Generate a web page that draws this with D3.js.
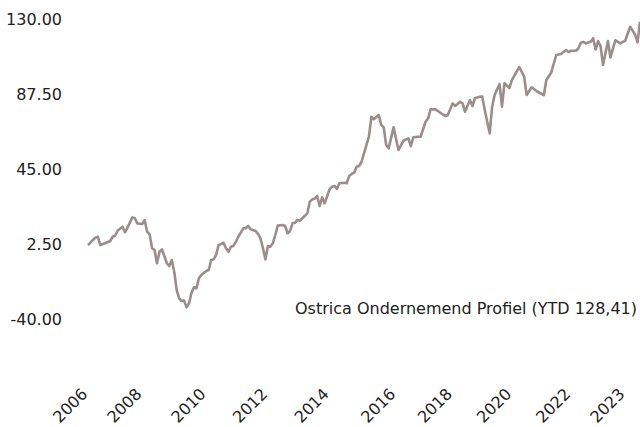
<!DOCTYPE html>
<html>
<head>
  <meta charset="UTF-8">
  <style>
    body { margin: 0; background: white; }
    svg text { font-family: "DejaVu Sans", sans-serif; fill: #222; }
    .line { fill: none; stroke: #9b8d8c; stroke-width: 2.6; stroke-linejoin: round; }
  </style>
</head>
<body>
<svg id="chart" width="640" height="427"></svg>
<script src="https://d3js.org/d3.v7.min.js"></script>
<script>

// month index from the start of the series
let months = [0,2,3,4,5,7,9,10,11,12,14,15,16,18,19,20,22,23,24,25,26,27,28,29,30,32,33,34,35,36,37,38,39,40,41,42,43,44,45,46,48,49,50,51,52,53,
  55,56,57,58,59,60,61,63,64,65,66,68,69,70,71,72,73,74,75,76,77,79,80,81,82,83,84,85,86,87,89,90,91,92,93,94,95,96,97,98,99,100,101,102,104,105,106,107,108,109,110,111,
  112,114,115,116,118,119,120,121,122,124,126,128,130,131,132,134,135,137,138,139,141,143,145,146,148,149,151,152,153,155,156,157,159,160,161,163,164,165,167,168,169,171,172,175,177,178,180,182,185,186,188,190,192,194,195,196,198,199,200,201,202,204,205,206,207,208,209,211,212,214,216,218,220,221,222,223,224];

let values = [1.9,4.8,6.1,6.6,1.9,2.9,4.2,6.6,7.2,10.0,12.3,9.1,11.7,17.6,17.1,14.2,13.8,16.1,9.5,8.0,0.1,-0.9,-8.4,-1.9,-0.5,-8.4,-10.0,-6.6,-13.2,-23.6,-28.3,-29.8,-29.6,-33.4,-31.1,-25.1,-22.0,-22.6,-16.9,-15.1,-12.8,-12.2,-6.6,-6.2,-3.7,1.9,
  3.2,0.1,-1.9,1.0,1.4,3.8,6.6,11.4,11.4,12.7,10.8,9.9,8.2,5.7,0.1,-6.2,1.4,1.0,2.9,7.6,12.9,13.3,12.7,8.6,9.9,14.2,14.6,16.1,15.7,17.1,19.9,26.5,27.8,28.2,29.7,24.0,29.0,25.6,29.3,33.5,35.0,35.4,33.7,36.9,37.2,36.9,41.0,42.2,42.9,46.3,46.7,49.1,
  53.9,63.3,74.6,73.2,75.6,69.9,68.6,58.6,56.7,68.6,55.8,61.0,62.4,58.0,63.0,63.3,63.3,71.8,73.7,78.8,78.8,76.9,75.0,75.6,82.2,80.7,83.1,82.2,77.5,84.1,80.7,85.1,86.0,86.0,78.4,65.2,80.3,86.9,93.2,80.3,93.6,90.9,95.4,102.8,97.3,86.9,91.3,89.2,86.9,95.4,99.7,109.6,110.2,112.4,111.3,112.0,112.0,113.4,116.6,117.0,116.2,117.1,119.1,112.7,117.5,114.7,103.9,117.5,108.2,117.9,116.2,117.7,125.6,123.4,121.2,116.7,128.41];

let tickIdx = [0,22,48,73,98,125,148,172,196,218];
let tickLabels = ["2006","2008","2010","2012","2014","2016","2018","2020","2022","2023"];
let yTicks = [-40, 2.5, 45, 87.5, 130];
let seriesName = "Ostrica Ondernemend Profiel (YTD 128,41)";

let data = months.map((m, i) => ({ m: m, v: values[i] }));

let svg = d3.select("#chart");

let x = d3.scaleLinear().domain([0, 224]).range([88, 640]);
let y = d3.scaleLinear().domain([-40, 130]).range([319, 19]);

// y axis, labels only
svg.append("g")
    .attr("transform", "translate(70,0)")
    .call(d3.axisLeft(y).tickValues(yTicks).tickFormat(d => d.toFixed(2)).tickSize(0).tickPadding(8))
    .call(g => g.select(".domain").remove())
    .selectAll("text")
    .style("font-size", "16px");

// x axis, rotated year labels
svg.append("g")
    .attr("transform", "translate(0,395)")
    .call(d3.axisBottom(x).tickValues(tickIdx).tickFormat((d, i) => tickLabels[i]).tickSize(0))
    .call(g => g.select(".domain").remove())
    .selectAll("text")
    .style("font-size", "16px")
    .attr("dy", 0)
    .attr("y", 0)
    .attr("text-anchor", "end")
    .attr("transform", "rotate(-45)");

svg.append("path")
    .datum(data)
    .attr("class", "line")
    .attr("d", d3.line().x(d => x(d.m)).y(d => y(d.v)));

svg.append("text")
    .attr("x", 637)
    .attr("y", 314)
    .attr("text-anchor", "end")
    .style("font-size", "16px")
    .text(seriesName);

</script>
</body>
</html>
